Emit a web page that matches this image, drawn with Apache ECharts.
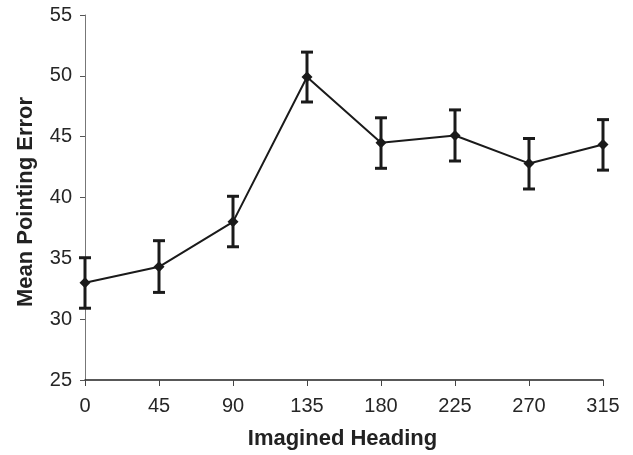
<!DOCTYPE html>
<html><head><meta charset="utf-8">
<script src="https://cdn.jsdelivr.net/npm/echarts@6/dist/echarts.min.js"></script>
<style>html,body{margin:0;padding:0;background:#fff}#c{width:633px;height:455px}</style>
</head><body><div id="c"></div>
<script>
var headings = [0, 45, 90, 135, 180, 225, 270, 315];
var meanError = [33.0, 34.3, 38.0, 49.9, 44.5, 45.1, 42.8, 44.35];
var errLow = [30.9, 32.2, 35.95, 47.85, 42.4, 43.0, 40.7, 42.25];
var errHigh = [35.05, 36.45, 40.1, 51.95, 46.55, 47.2, 44.85, 46.4];
var yTicks = [25, 30, 35, 40, 45, 50, 55];

var lineData = headings.map(function (h, i) { return [h, meanError[i]]; });
var errData = headings.map(function (h, i) { return [h, errLow[i], errHigh[i]]; });

var chart = echarts.init(document.getElementById('c'), null, {renderer: 'canvas'});
var font = 'Liberation Sans, Arial, sans-serif';
chart.setOption({
  animation: false,
  backgroundColor: '#fff',
  grid: {left: 85, right: 30, top: 15, bottom: 73, containLabel: false},
  xAxis: {
    type: 'value', min: 0, max: 315, interval: 45,
    name: 'Imagined Heading', nameLocation: 'middle', nameGap: 48,
    nameTextStyle: {fontFamily: font, fontSize: 22, fontWeight: 'bold', color: '#222', padding: [0, 3, 0, 0]},
    axisLine: {lineStyle: {color: '#222', width: 1.5}},
    axisTick: {show: true, inside: false, length: 6, lineStyle: {color: '#444'}},
    axisLabel: {fontFamily: font, fontSize: 20, color: '#262626', margin: 16},
    splitLine: {show: false}
  },
  yAxis: {
    type: 'value', min: yTicks[0], max: yTicks[yTicks.length - 1], interval: 5,
    name: 'Mean Pointing Error', nameLocation: 'middle', nameGap: 48,
    nameTextStyle: {fontFamily: font, fontSize: 22, fontWeight: 'bold', color: '#222', padding: [0, 9, 0, 0]},
    axisLine: {show: true, lineStyle: {color: '#777', width: 1}},
    axisTick: {show: true, inside: false, length: 5, lineStyle: {color: '#555'}},
    axisLabel: {fontFamily: font, fontSize: 20, color: '#262626', margin: 13},
    splitLine: {show: false}
  },
  series: [
    {
      type: 'custom',
      data: errData,
      z: 3,
      renderItem: function (params, api) {
        var x = api.value(0);
        var lo = api.coord([x, api.value(1)]);
        var hi = api.coord([x, api.value(2)]);
        var hw = 6;
        var style = {stroke: '#1a1a1a', lineWidth: 3};
        return {
          type: 'group',
          children: [
            {type: 'line', shape: {x1: lo[0], y1: lo[1], x2: hi[0], y2: hi[1]}, style: style},
            {type: 'line', shape: {x1: lo[0] - hw, y1: lo[1], x2: lo[0] + hw, y2: lo[1]}, style: style},
            {type: 'line', shape: {x1: hi[0] - hw, y1: hi[1], x2: hi[0] + hw, y2: hi[1]}, style: style}
          ]
        };
      }
    },
    {
      type: 'line',
      data: lineData,
      z: 4,
      symbol: 'diamond',
      symbolSize: 11,
      lineStyle: {color: '#1a1a1a', width: 2},
      itemStyle: {color: '#1a1a1a'}
    }
  ]
});
</script></body></html>
